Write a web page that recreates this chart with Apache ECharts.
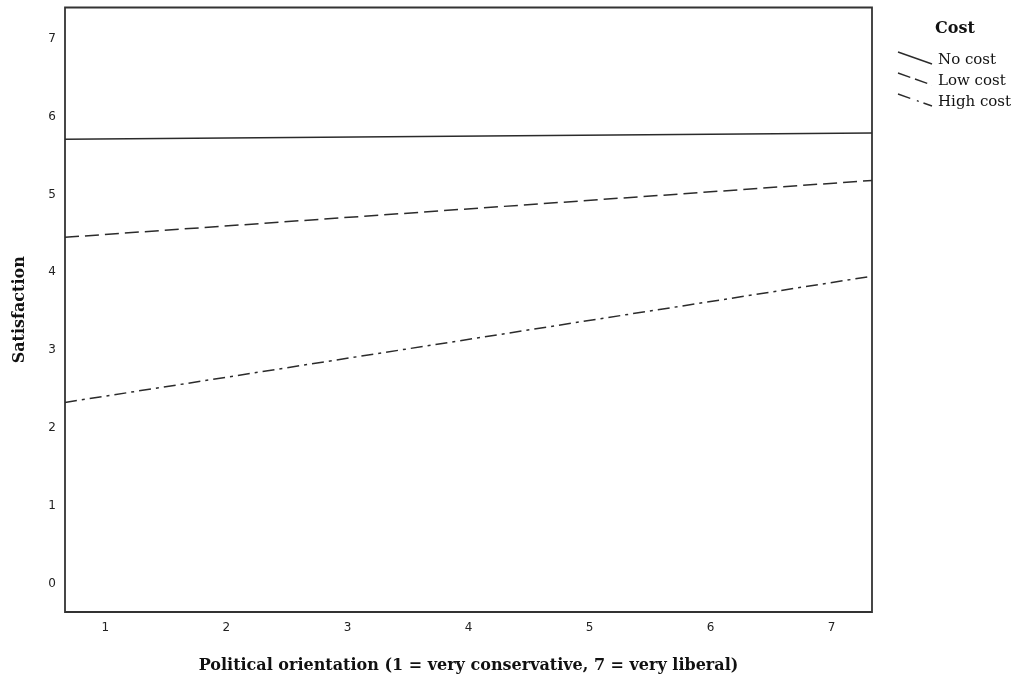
<!DOCTYPE html>
<html>
<head>
<meta charset="utf-8">
<script src="https://cdn.jsdelivr.net/npm/echarts@6/dist/echarts.min.js"></script>
<style>html,body{margin:0;padding:0;background:#fff}#c{width:1018px;height:684px}</style>
</head>
<body>
<div id="c"></div>
<script>
var xEnds = [0.6667, 7.3333];
var noCost = [5.71, 5.79];
var lowCost = [4.45, 5.18];
var highCost = [2.33, 3.95];
var xTicks = [1, 2, 3, 4, 5, 6, 7];
var yTicks = [0, 1, 2, 3, 4, 5, 6, 7];
var seriesNames = ['No cost', 'Low cost', 'High cost'];

function pairs(ys) { return xEnds.map(function (x, i) { return [x, ys[i]]; }); }

var chart = echarts.init(document.getElementById('c'));
var lineCol = '#2b2b2b';
var dashes = ['solid', [14, 6], [12, 5, 3, 5]];
var legendDashes = [null, [13, 5], [13, 7, 2, 5]];
var seriesData = [noCost, lowCost, highCost];

var legendGraphics = [{
  type: 'text', left: 935, top: 21,
  style: { text: 'Cost', font: 'bold 16px "DejaVu Serif"', fill: '#111' }
}];
seriesNames.forEach(function (n, i) {
  var y = 52 + i * 21;
  legendGraphics.push({
    type: 'line',
    shape: { x1: 898, y1: y, x2: 932, y2: y + 12 },
    style: { stroke: lineCol, lineWidth: 1.4, lineDash: legendDashes[i] }
  });
  legendGraphics.push({
    type: 'text', left: 938, top: y + 1,
    style: { text: n, font: '15px "DejaVu Serif"', fill: '#111' }
  });
});

chart.setOption({
  animation: false,
  backgroundColor: '#fff',
  grid: { left: 65, top: 7.5, right: 146, bottom: 72, show: true, borderColor: '#333', borderWidth: 1.8, backgroundColor: 'transparent' },
  xAxis: {
    type: 'value', min: xEnds[0], max: xEnds[1],
    name: 'Political orientation (1 = very conservative, 7 = very liberal)',
    nameLocation: 'middle', nameGap: 46,
    nameTextStyle: { fontFamily: 'DejaVu Serif', fontWeight: 'bold', fontSize: 16, color: '#111' },
    axisLine: { show: false }, axisTick: { show: false }, splitLine: { show: false },
    axisLabel: { customValues: xTicks, margin: 10, fontFamily: 'DejaVu Sans', fontSize: 12, color: '#222' }
  },
  yAxis: {
    type: 'value', min: -0.36, max: 7.4,
    name: 'Satisfaction', nameLocation: 'middle', nameGap: 37,
    nameTextStyle: { fontFamily: 'DejaVu Serif', fontWeight: 'bold', fontSize: 16, color: '#111' },
    axisLine: { show: false }, axisTick: { show: false }, splitLine: { show: false },
    axisLabel: { customValues: yTicks, margin: 9, fontFamily: 'DejaVu Sans', fontSize: 12, color: '#222' }
  },
  series: seriesNames.map(function (n, i) {
    return {
      name: n, type: 'line', data: pairs(seriesData[i]), symbol: 'none',
      lineStyle: { color: lineCol, width: 1.5, type: dashes[i] }
    };
  }),
  graphic: legendGraphics
});
</script>
</body>
</html>
